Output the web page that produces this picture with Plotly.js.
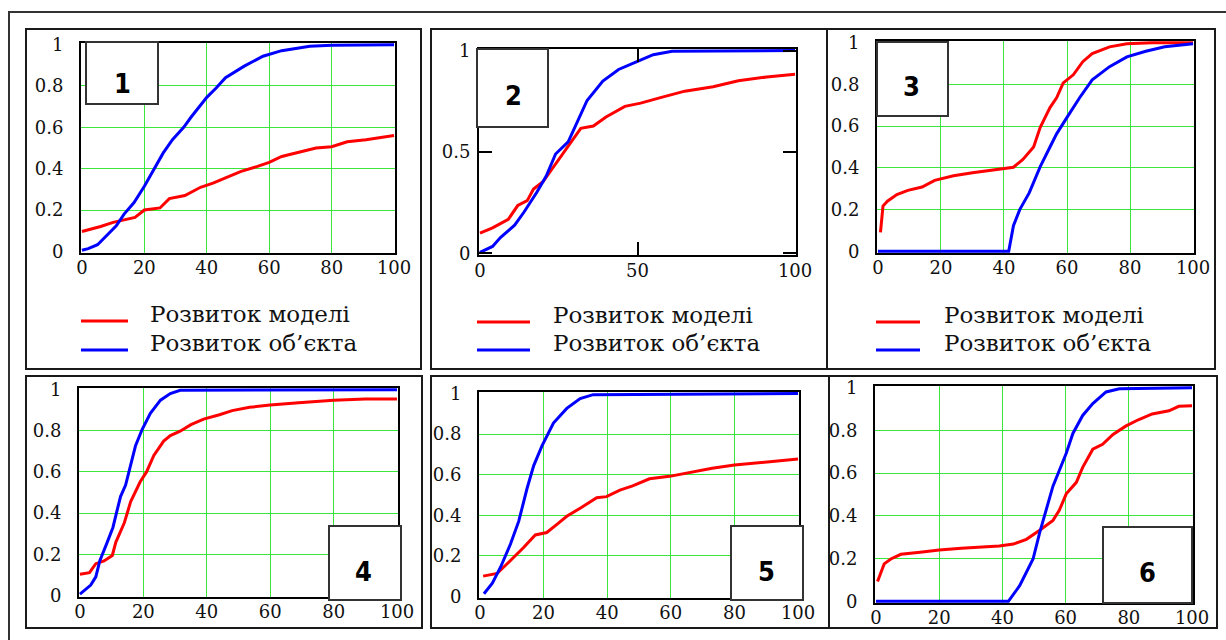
<!DOCTYPE html>
<html>
<head>
<meta charset="utf-8">
<script src="https://cdn.plot.ly/plotly-3.0.1.min.js"></script>
<style>
html,body{margin:0;padding:0;background:#fff;}
#chart{width:1226px;height:640px;}
</style>
</head>
<body>
<div id="chart"></div>
<script>
// ---------- DATA ----------
const seriesNames = ['Розвиток моделі', 'Розвиток об’єкта'];
const panelLabels = ['1', '2', '3', '4', '5', '6'];

const xTicks20 = [0, 20, 40, 60, 80, 100];
const yTicks02 = [0, 0.2, 0.4, 0.6, 0.8, 1];
const xTicks50 = [0, 50, 100];
const yTicks05 = [0, 0.5, 1];
const xGrid = [20, 40, 60, 80];
const yGrid = [0.2, 0.4, 0.6, 0.8];

// Panel 1
const p1ModelX = [0, 6, 10, 17, 20, 25, 28, 33, 38, 42, 46, 51, 56, 60, 64, 70, 75, 80, 85, 91, 100];
const p1ModelY = [0.096, 0.12, 0.14, 0.164, 0.2, 0.21, 0.255, 0.27, 0.31, 0.33, 0.355, 0.387, 0.41, 0.43, 0.459, 0.48, 0.5, 0.506, 0.53, 0.54, 0.56];
const p1ObjX = [0, 2, 5, 8, 11, 13.5, 16.7, 20, 23, 26, 29, 32.6, 35, 38, 40, 43, 46, 52, 58, 64, 73, 80, 100];
const p1ObjY = [0.005, 0.013, 0.032, 0.076, 0.124, 0.18, 0.236, 0.315, 0.395, 0.475, 0.54, 0.6, 0.65, 0.705, 0.745, 0.79, 0.84, 0.896, 0.944, 0.971, 0.992, 0.997, 1];

// Panel 2
const p2ModelX = [0, 4, 9, 12, 15, 17, 20, 23, 28, 32, 36, 40, 46, 51, 57, 65, 74, 82, 91, 100];
const p2ModelY = [0.1, 0.126, 0.168, 0.236, 0.26, 0.317, 0.353, 0.42, 0.527, 0.617, 0.628, 0.673, 0.725, 0.741, 0.767, 0.8, 0.822, 0.851, 0.87, 0.883];
const p2ObjX = [0, 4, 6.5, 11, 14, 18, 21, 24, 28, 30, 34, 39, 44, 50, 55, 61, 100];
const p2ObjY = [0.005, 0.034, 0.078, 0.139, 0.204, 0.30, 0.38, 0.49, 0.55, 0.62, 0.754, 0.85, 0.907, 0.947, 0.98, 0.997, 1];

// Panel 3
const p3ModelX = [0.8, 1.6, 3, 6, 9.5, 14, 18, 24, 30, 37, 43, 46, 49.4, 51.5, 54.6, 56.7, 58.8, 62, 65, 68, 73.5, 79, 87, 100];
const p3ModelY = [0.091, 0.217, 0.24, 0.272, 0.292, 0.308, 0.34, 0.362, 0.377, 0.39, 0.403, 0.44, 0.5, 0.594, 0.689, 0.736, 0.807, 0.846, 0.909, 0.948, 0.98, 0.995, 1, 1];
const p3ObjX = [0, 41.5, 43, 45, 48, 51.5, 54.6, 56.7, 60, 64, 68, 73.5, 79, 85, 91, 100];
const p3ObjY = [0, 0, 0.123, 0.2, 0.28, 0.406, 0.5, 0.563, 0.642, 0.736, 0.822, 0.885, 0.932, 0.959, 0.98, 0.995];

// Panel 4
const p4ModelX = [0, 3, 5, 7.6, 10.2, 11.3, 14, 16, 19, 21, 23.3, 26.4, 28.5, 31.6, 35, 39, 44, 48, 53.5, 60, 69, 80, 90, 100];
const p4ModelY = [0.103, 0.11, 0.154, 0.167, 0.194, 0.258, 0.353, 0.456, 0.552, 0.6, 0.68, 0.75, 0.777, 0.798, 0.83, 0.857, 0.878, 0.898, 0.914, 0.925, 0.936, 0.949, 0.955, 0.955];
const p4ObjX = [0, 3.4, 5, 6.3, 8.4, 10.4, 11.5, 12.8, 14.4, 16, 17.5, 19.6, 22.2, 25.4, 28.5, 31.6, 100];
const p4ObjY = [0.006, 0.05, 0.09, 0.17, 0.25, 0.33, 0.4, 0.48, 0.536, 0.63, 0.726, 0.806, 0.885, 0.949, 0.981, 0.997, 1];

// Panel 5
const p5ModelX = [1, 5.4, 9.6, 13.8, 17.4, 21, 24.2, 27.3, 31.5, 36.7, 39.8, 44, 48, 53.3, 59.6, 67, 73, 80, 88, 94, 100];
const p5ModelY = [0.1, 0.113, 0.177, 0.242, 0.303, 0.315, 0.355, 0.395, 0.435, 0.487, 0.492, 0.524, 0.545, 0.58, 0.592, 0.616, 0.632, 0.648, 0.661, 0.669, 0.677];
const p5ObjX = [1.25, 3.9, 6.5, 9.6, 12.2, 14.8, 16.9, 19.5, 23.1, 27.3, 31.5, 35.6, 100];
const p5ObjY = [0.013, 0.065, 0.145, 0.258, 0.371, 0.532, 0.645, 0.742, 0.855, 0.927, 0.976, 0.995, 1];

// Panel 6
const p6ModelX = [0.5, 2.6, 4.7, 7.9, 14, 20, 27, 33, 39, 43.5, 47.6, 51.8, 56, 58, 60.2, 63.4, 65.4, 68.6, 71.7, 75, 79, 83, 87.4, 92.7, 95.8, 100];
const p6ModelY = [0.093, 0.175, 0.198, 0.22, 0.23, 0.24, 0.248, 0.255, 0.259, 0.268, 0.29, 0.333, 0.379, 0.426, 0.503, 0.557, 0.627, 0.712, 0.735, 0.781, 0.82, 0.85, 0.877, 0.892, 0.913, 0.916];
const p6ObjX = [0, 41.9, 45.5, 47.6, 49.7, 51.8, 53.9, 56, 58.1, 60.2, 62.3, 65.4, 68.6, 72.8, 77, 100];
const p6ObjY = [0, 0, 0.074, 0.136, 0.198, 0.322, 0.43, 0.539, 0.616, 0.693, 0.786, 0.87, 0.926, 0.98, 0.995, 1];

// ---------- LAYOUT ----------
const W = 1226, H = 640;
const px = v => v / W;
const py = v => 1 - v / H;

const RED = '#ff0000', BLUE = '#0000ff', GRID = '#3ae63a';
const tickFamily = 'DejaVu Serif';
const legendFamily = 'DejaVu Serif';

const series = [
  [p1ModelX, p1ModelY, p1ObjX, p1ObjY],
  [p2ModelX, p2ModelY, p2ObjX, p2ObjY],
  [p3ModelX, p3ModelY, p3ObjX, p3ObjY],
  [p4ModelX, p4ModelY, p4ObjX, p4ObjY],
  [p5ModelX, p5ModelY, p5ObjX, p5ObjY],
  [p6ModelX, p6ModelY, p6ObjX, p6ObjY]
];

// plot areas (pixels): left, right, top, bottom
const areas = [
  [81, 395, 43, 253],
  [479, 796, 49, 255],
  [877, 1194, 41, 253],
  [79, 398, 388, 597],
  [479, 799, 392, 598],
  [875, 1193, 386, 603]
];
// outer frames of each panel
const frames = [
  [26, 29, 421, 369],
  [431, 29, 827, 369],
  [827, 29, 1215, 369],
  [26, 376, 422, 628],
  [431, 376, 829, 628],
  [829, 376, 1217, 628]
];
// number boxes
const boxes = [
  [86, 42, 158, 104, 122, 84],
  [477, 49, 548, 127, 513, 95],
  [877, 42, 948, 116, 911, 86],
  [329, 526, 401, 600, 363, 571],
  [731, 526, 803, 600, 766, 571],
  [1103, 527, 1192, 603, 1147, 572]
];
// legends: line x0,x1, text x, row1 y, row2 y
const legends = [
  [81, 128, 148, 321, 350],
  [477, 530, 551, 322, 350],
  [876, 920, 942, 322, 350]
];

const traces = [];
const layout = {
  width: W, height: H,
  margin: {l: 0, r: 0, t: 0, b: 0},
  paper_bgcolor: '#fff', plot_bgcolor: '#fff',
  showlegend: false,
  shapes: [], annotations: []
};

series.forEach((s, i) => {
  const n = i + 1;
  const xa = n === 1 ? 'x' : 'x' + n;
  const ya = n === 1 ? 'y' : 'y' + n;
  traces.push({x: s[0], y: s[1], xaxis: xa, yaxis: ya, mode: 'lines', name: seriesNames[0],
    line: {color: RED, width: 3}, hoverinfo: 'skip'});
  traces.push({x: s[2], y: s[3], xaxis: xa, yaxis: ya, mode: 'lines', name: seriesNames[1],
    line: {color: BLUE, width: 3}, hoverinfo: 'skip'});

  const a = areas[i];
  const isP2 = n === 2;
  const common = {
    showline: true, linecolor: '#000', linewidth: 2,
    zeroline: false, fixedrange: true,
    tickfont: {family: tickFamily, size: 18, color: '#111'},
    showgrid: false,
    mirror: isP2 ? 'ticks' : true,
    ticks: isP2 ? 'inside' : '',
    ticklen: 13, tickwidth: 2, tickcolor: '#000'
  };
  layout['xaxis' + (n === 1 ? '' : n)] = Object.assign({}, common, {
    domain: [px(a[0]), px(a[1])], anchor: ya,
    range: [-0.3, 100.3], tickmode: 'array',
    tickvals: isP2 ? xTicks50 : xTicks20,
    ticklabelstandoff: isP2 ? -2 : -3,
    minor: isP2 ? {showgrid: false} : {tickmode: 'array', tickvals: xGrid, showgrid: true, gridcolor: GRID, gridwidth: 1, ticks: ''}
  });
  layout['yaxis' + (n === 1 ? '' : n)] = Object.assign({}, common, {
    domain: [py(a[3]), py(a[2])], anchor: xa,
    range: [-0.008, 1.008], tickmode: 'array',
    tickvals: isP2 ? yTicks05 : yTicks02,
    ticklabelstandoff: isP2 ? 3 : 12,
    minor: isP2 ? {showgrid: false} : {tickmode: 'array', tickvals: yGrid, showgrid: true, gridcolor: GRID, gridwidth: 1, ticks: ''}
  });

  const f = frames[i];
  layout.shapes.push({type: 'rect', xref: 'paper', yref: 'paper',
    x0: px(f[0]), x1: px(f[2]), y0: py(f[3]), y1: py(f[1]),
    line: {color: '#1a1a1a', width: 2}, layer: 'below'});

  const b = boxes[i];
  layout.shapes.push({type: 'rect', xref: 'paper', yref: 'paper',
    x0: px(b[0]), x1: px(b[2]), y0: py(b[3]), y1: py(b[1]),
    fillcolor: '#fff', line: {color: '#333', width: 2}, layer: 'above'});
  layout.annotations.push({xref: 'paper', yref: 'paper', x: px(b[4]), y: py(b[5]),
    xanchor: 'center', yanchor: 'middle', showarrow: false, text: '<b>' + panelLabels[i] + '</b>',
    font: {family: 'DejaVu Sans Condensed', size: 27, color: '#000'}});
});

// outer border
layout.shapes.push({type: 'rect', xref: 'paper', yref: 'paper',
  x0: px(9), x1: px(1240), y0: py(660), y1: py(12),
  line: {color: '#333', width: 2}, layer: 'below'});

legends.forEach(l => {
  [RED, BLUE].forEach((c, k) => {
    const yy = k === 0 ? l[3] : l[4];
    layout.shapes.push({type: 'line', xref: 'paper', yref: 'paper',
      x0: px(l[0]), x1: px(l[1]), y0: py(yy), y1: py(yy),
      line: {color: c, width: 3}});
    layout.annotations.push({xref: 'paper', yref: 'paper', x: px(l[2]), y: py(yy - 7),
      xanchor: 'left', yanchor: 'middle', showarrow: false, text: seriesNames[k],
      font: {family: legendFamily, size: 23, color: '#111'}});
  });
});

Plotly.newPlot('chart', traces, layout, {staticPlot: true, displayModeBar: false});
</script>
</body>
</html>
